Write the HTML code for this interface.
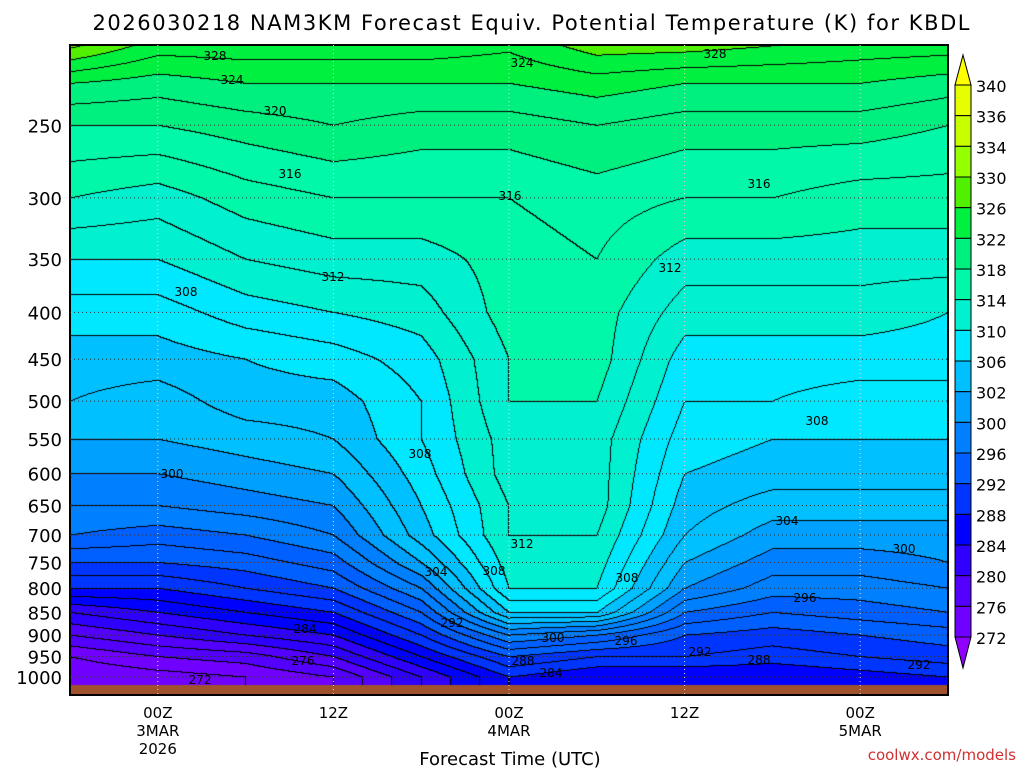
<!DOCTYPE html>
<html><head><meta charset="utf-8"><style>
body{margin:0;background:#fff;width:1024px;height:768px;overflow:hidden;font-family:"DejaVu Sans","Liberation Sans",sans-serif}
#wrap{position:relative;width:1024px;height:768px}
canvas{position:absolute;left:70px;top:45px}
svg{position:absolute;left:0;top:0;font-family:"DejaVu Sans","Liberation Sans",sans-serif}
</style></head><body><div id="wrap">
<canvas id="cv" width="878" height="650"></canvas>
<svg id="sv" width="1024" height="768"></svg>
</div>
<script>
const hours=[0,6,12,18,24,30,36,42,48,54,60];
const levels=[1050,1000,950,900,850,800,750,700,650,600,550,500,450,400,350,300,250,225,200];
const col0=[272,272,274,278,282,288,292,296,298,300,302,304,305,307,310,314,318,322,330];
const col1=[272,273,276,280,284,288,292,295,298,300,302,303,305,307,310,313,318,321,326];
const col2=[274,274,277,282,286,290,293,296,299,301,303,305,306,309,312,315,319,322,326];
const col3=[276,276,280,284,288,292,295,298,300,302,304,305,307,310,313,316,320,322,326];
const col4=[282,282,286,290,294,298,302,305,306,307,308,308,309,311,313,316,319,322,326];
const col5=[288,288,292,298,306,310,311,312,312,313,313,314,314,315,315,316,319,322,325];
const col6=[286,286,290,296,306,310,311,312,313,313,313,314,315,315,316,317,320,323,328];
const col7=[286,286,290,292,296,300,302,304,305,306,307,308,309,311,313,316,319,322,328];
const col8=[286,286,289,291,294,297,299,301,303,305,306,308,309,311,313,316,319,322,327];
const col9=[287,287,290,292,295,297,299,301,303,305,306,307,309,311,313,315,319,322,326];
const col10=[288,288,291,293,296,298,300,301,303,305,306,307,309,310,313,315,318,321,326];
const grid=[col0,col1,col2,col3,col4,col5,col6,col7,col8,col9,col10];
const binEdges=[272,276,280,284,288,292,296,300,302,306,310,314,318,322,326,330,334,336,340];
const binColors=["#9000ff","#7000ff","#5400ff","#3000ff","#0000ff","#0034ff","#0060ff","#0080ff","#00a0ff","#00c0ff","#00e8ff","#00f0d0","#00f8a8","#00f080","#00f040","#50f000","#96ff00","#c8ff00","#e6ff00","#ffff00"];
const xTickHours=[6,18,30,42,54];
const xTickLabels=[["00Z","3MAR","2026"],["12Z"],["00Z","4MAR"],["12Z"],["00Z","5MAR"]];
const yTicks=[250,300,350,400,450,500,550,600,650,700,750,800,850,900,950,1000];
const PL=70,PT=45,PW=878,PH=650;
const xs=h=>PL+h/60*PW;
const ys=p=>677-398*Math.log(1000/p);
function val(h,p){
  let ti=Math.min(hours.length-2,Math.max(0,Math.floor(h/6)));let ft=(h-hours[ti])/(hours[ti+1]-hours[ti]);
  const lp=Math.log(p);let li=0;
  while(li<levels.length-2&&lp<Math.log(levels[li+1]))li++;
  let fl=(Math.log(levels[li])-lp)/(Math.log(levels[li])-Math.log(levels[li+1]));fl=Math.max(0,Math.min(1,fl));
  const a=grid[ti][li]*(1-fl)+grid[ti][li+1]*fl, b=grid[ti+1][li]*(1-fl)+grid[ti+1][li+1]*fl;
  return a*(1-ft)+b*ft;
}
function hex(c){return [parseInt(c.substr(1,2),16),parseInt(c.substr(3,2),16),parseInt(c.substr(5,2),16)];}
const rgb=binColors.map(hex);
const cv=document.getElementById('cv'),ctx=cv.getContext('2d');
const img=ctx.createImageData(PW,PH);
const V=new Float32Array(PW*PH);
for(let y=0;y<PH;y++){const p=1000*Math.exp(-(677-(y+PT))/398);
 for(let x=0;x<PW;x++){V[y*PW+x]=val(x/PW*60,p);}}
for(let y=0;y<PH;y++)for(let x=0;x<PW;x++){
 const v=V[y*PW+x];let b=0;while(b<binEdges.length&&v>=binEdges[b])b++;
 let c=rgb[b];const k=Math.floor(v/2);
 let line=false;if(x<PW-1&&Math.floor(V[y*PW+x+1]/2)!==k)line=true;if(y<PH-1&&Math.floor(V[(y+1)*PW+x]/2)!==k)line=true;
 if(line)c=[0,0,0];
 if(y+PT>=685)c=[160,82,45];
 const i=(y*PW+x)*4;img.data[i]=c[0];img.data[i+1]=c[1];img.data[i+2]=c[2];img.data[i+3]=255;}
ctx.putImageData(img,0,0);
const NS='http://www.w3.org/2000/svg',sv=document.getElementById('sv');
function el(t,a,txt){const e=document.createElementNS(NS,t);for(const k in a)e.setAttribute(k,a[k]);if(txt!==undefined)e.textContent=txt;sv.appendChild(e);return e;}
let e=el('rect',{x:PL,y:PT,width:PW,height:PH,fill:'none',stroke:'#000','stroke-width':2});


yTicks.forEach(p=>{const y=ys(p);
 let g=el('line',{x1:PL,x2:PL+PW,y1:y,y2:y,stroke:'#333','stroke-dasharray':'1,3','stroke-width':1});
 
 
 let t=el('text',{x:62,y:y+7,'text-anchor':'end','font-size':18,fill:'#000'},String(p));
 
 });
xTickHours.forEach((h,i)=>{const x=xs(h);
 let g=el('line',{x1:x,x2:x,y1:PT,y2:PT+PH,stroke:'#ddd','stroke-dasharray':'1,3','stroke-width':1});
 
 
 xTickLabels[i].forEach((s,j)=>{let t=el('text',{x:x,y:718+j*18,'text-anchor':'middle','font-size':15,fill:'#000'},s);
 
 });});
const labs=[["328",215,55],["324",232,79],["320",275,110],["316",290,173],["312",333,276],["308",186,291],["300",172,473],["284",305,628],["276",303,660],["272",200,679],["324",522,62],["328",715,53],["316",510,195],["316",759,183],["312",670,267],["308",420,453],["308",817,420],["304",787,520],["300",904,548],["312",522,543],["304",436,571],["308",494,570],["308",627,577],["296",805,597],["292",452,622],["300",553,637],["296",626,640],["288",523,660],["284",551,672],["292",700,651],["288",759,659],["292",919,664]];
labs.forEach(l=>{let t=el('text',{x:l[1],y:l[2]+5,'text-anchor':'middle','font-size':12,fill:'#000'},l[0]);
 
 });
const cbX=955,cbW=16,cbTop=85,cbStep=30.67;
for(let i=0;i<binColors.length;i++){const ci=binColors.length-1-i;
 let r;
 if(i===0)r=el('polygon',{points:`${cbX},${cbTop} ${cbX+cbW},${cbTop} ${cbX+cbW/2},55`,fill:binColors[ci],stroke:'#000'});
 else if(i===binColors.length-1){const y=cbTop+(i-1)*cbStep;r=el('polygon',{points:`${cbX},${y} ${cbX+cbW},${y} ${cbX+cbW/2},668`,fill:binColors[ci],stroke:'#000'});}
 else r=el('rect',{x:cbX,y:cbTop+(i-1)*cbStep,width:cbW,height:cbStep,fill:binColors[ci],stroke:'#000'});
 
 }
binEdges.slice().reverse().forEach((v,i)=>{let t=el('text',{x:976,y:cbTop+i*cbStep+7,'font-size':16,fill:'#000'},String(v));
 
 });
let tt=el('text',{x:531,y:30,'text-anchor':'middle','font-size':21,fill:'#000',textLength:877},'2026030218 NAM3KM Forecast Equiv. Potential Temperature (K) for KBDL');


let xt=el('text',{x:510,y:765,'text-anchor':'middle','font-size':18,fill:'#000'},'Forecast Time (UTC)');


let cr=el('text',{x:1016,y:760,'text-anchor':'end','font-size':15,fill:'#d03030'},'coolwx.com/models');


</script></body></html>
